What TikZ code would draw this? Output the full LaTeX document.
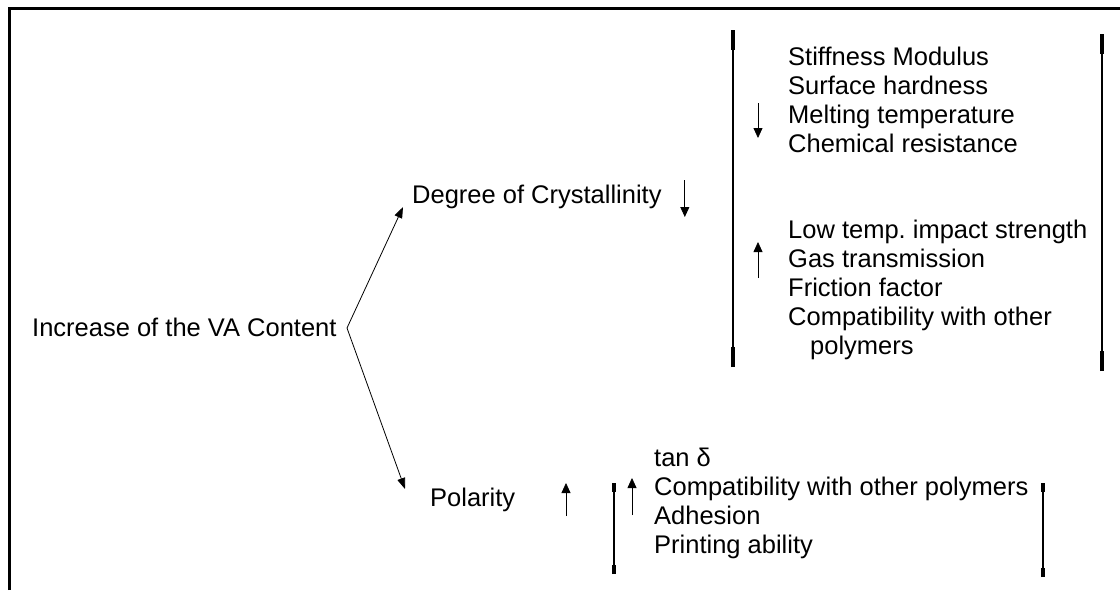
\documentclass[tikz,border=0pt]{standalone}
\usepackage{fontspec}
\setmainfont{Liberation Sans}
\usetikzlibrary{arrows.meta,positioning}

\begin{document}
\begin{tikzpicture}[x=1pt, y=-1pt,
    lbl/.style={inner sep=0pt, font=\fontsize{25.5}{29}\selectfont},
    lst/.style={lbl, align=left, anchor=base west},
    arrow/.style={-{Triangle[length=11pt,width=8pt]}, line width=0.8pt},
    trend/.style={-{Triangle[length=10pt,width=9pt]}, line width=0.8pt},
    brk/.style={line width=1.6pt},
    brkend/.style={line width=3.6pt},
  ]
  \useasboundingbox (0,0) rectangle (1120,590);
  % frame
  \draw[line width=3pt] (9.5,590) -- (9.5,8) -- (1120,8);

  \node[lbl, anchor=west] (vac)  at (32,327)  {Increase of the VA Content};
  \node[lbl, anchor=west] (crys) at (412,197) {Degree of Crystallinity};
  \node[lbl, anchor=west] (pol)  at (430,500) {Polarity};
  \coordinate (apex) at (347,328);

  \draw[arrow] (apex) -- ([xshift=-9pt,yshift=-10pt]crys.west);
  \draw[arrow] (apex) -- ([xshift=-25pt,yshift=11pt]pol.west);

  \draw[trend] ([xshift=23pt,yshift=17pt]crys.east) -- ++(0,37);
  \draw[trend] (566,516) -- (566,483);

  % property lists (anchored at the baseline of their last line)
  \node[lst] (down) at (788,152) {Stiffness Modulus\\Surface hardness\\Melting temperature\\Chemical resistance};
  \node[lst] (up)   at (788,354) {Low temp.\ impact strength\\Gas transmission\\Friction factor\\Compatibility with other\\\hspace*{22pt}polymers};
  \node[lst] (polp) at (654,553) {tan δ\\Compatibility with other polymers\\Adhesion\\Printing ability};

  \draw[trend] (758,103) -- (758,138);
  \draw[trend] (758,278) -- (758,242);
  \draw[trend] (632,515) -- (632,478);

  % brackets
  \foreach \bx/\ya/\yb/\e in {733/30/367/20, 1102/34/371/20, 614/483/574/9, 1043/483/577/9} {
    \draw[brk] (\bx,\ya) -- (\bx,\yb);
    \draw[brkend] (\bx,\ya) -- ++(0,\e);
    \draw[brkend] (\bx,\yb) -- ++(0,-\e);
  }
\end{tikzpicture}
\end{document}
